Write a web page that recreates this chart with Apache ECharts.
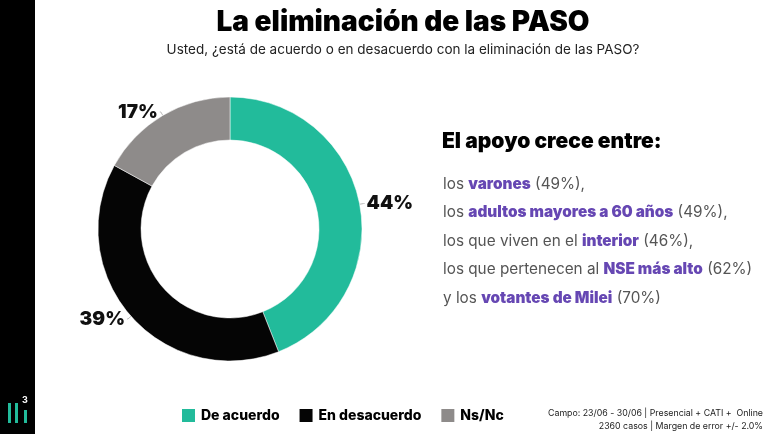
<!DOCTYPE html>
<html>
<head>
<meta charset="utf-8">
<script src="https://cdn.jsdelivr.net/npm/echarts@6/dist/echarts.min.js"></script>
<style>
  html, body { margin: 0; padding: 0; background: #fff; }
  #main { width: 768px; height: 436px; }
</style>
</head>
<body>
<div id="main"></div>
<script>
var myChart = echarts.init(document.getElementById("main"));

var categories = ["De acuerdo", "En desacuerdo", "Ns/Nc"];
var values = [44, 39, 17];
var colors = ["#22bb9b", "#050505", "#8e8b8a"];

// grupos donde crece el apoyo: [prefijo, destacado, porcentaje]
var groups = [
    ["los ", "varones", " (49%),"],
    ["los ", "adultos mayores a 60 años", " (49%),"],
    ["los que viven en el ", "interior", " (46%),"],
    ["los que pertenecen al ", "NSE más alto", " (62%)"],
    ["y los ", "votantes de Milei", " (70%)"]
];

var font = "Inter";

var textLines = groups.map(function (g) {
    return "{n|" + g[0] + "}{b|" + g[1] + "}{n|" + g[2] + "}";
});

option = {
    backgroundColor: "#ffffff",
    color: colors,
    title: [{
        text: "La eliminación de las PASO",
        left: 398,
        textAlign: "center",
        top: 4,
        textStyle: { fontFamily: font, fontWeight: 900, fontSize: 28, color: "#000" }
    }, {
        text: "Usted, ¿está de acuerdo o en desacuerdo con la eliminación de las PASO?",
        left: 398,
        textAlign: "center",
        top: 38,
        textStyle: { fontFamily: font, fontWeight: 400, fontSize: 13.5, color: "#222" }
    }, {
        text: "El apoyo crece entre:",
        left: 437,
        top: 126,
        textStyle: { fontFamily: font, fontWeight: 900, fontSize: 21, color: "#000" }
    }, {
        text: textLines.join("\n"),
        left: 438,
        top: 165,
        textStyle: {
            lineHeight: 28.5,
            rich: {
                n: { fontFamily: font, fontWeight: 400, fontSize: 15.3, color: "#555", lineHeight: 28.5 },
                b: { fontFamily: font, fontWeight: 900, fontSize: 15.3, color: "#6647b3", lineHeight: 28.5 }
            }
        }
    }, {
        text: "Campo: 23/06 - 30/06 | Presencial + CATI +  Online\n2360 casos | Margen de error +/- 2.0%",
        left: 758,
        top: 402,
        textAlign: "right",
        textStyle: { fontFamily: font, fontWeight: 400, fontSize: 8.8, color: "#222", lineHeight: 13, align: "right" }
    }],
    legend: {
        left: 175,
        top: 402,
        icon: "rect",
        itemWidth: 15,
        itemHeight: 15,
        itemGap: 18,
        data: categories,
        textStyle: { fontFamily: font, fontWeight: 800, fontSize: 14, color: "#000" }
    },
    graphic: [{
        type: "rect",
        shape: { x: 0, y: 0, width: 35, height: 434 },
        style: { fill: "#000" }
    }, {
        type: "rect",
        shape: { x: 8, y: 403, width: 3, height: 20 },
        style: { fill: "#22bb9b" }
    }, {
        type: "rect",
        shape: { x: 15, y: 403, width: 3, height: 20 },
        style: { fill: "#22bb9b" }
    }, {
        type: "rect",
        shape: { x: 24, y: 410, width: 3, height: 13 },
        style: { fill: "#22bb9b" }
    }, {
        type: "text",
        x: 22,
        y: 396,
        style: { text: "3", fill: "#fff", font: "bold 9px Inter" }
    }],
    series: [{
        name: "Eliminación de las PASO",
        type: "pie",
        center: [230, 229],
        radius: [89, 132],
        startAngle: 90,
        clockwise: true,
        avoidLabelOverlap: false,
        itemStyle: { borderColor: "#fff", borderWidth: 0.5 },
        label: {
            show: true,
            position: "outside",
            formatter: "{c}%",
            fontFamily: font,
            fontWeight: 900,
            fontSize: 19,
            color: "#111",
            distanceToLabelLine: 2
        },
        labelLine: {
            show: true,
            length: 4,
            length2: 1,
            lineStyle: { color: "#bbb", width: 1 }
        },
        data: categories.map(function (c, i) {
            return { name: c, value: values[i] };
        })
    }]
};

myChart.setOption(option);
</script>
</body>
</html>
